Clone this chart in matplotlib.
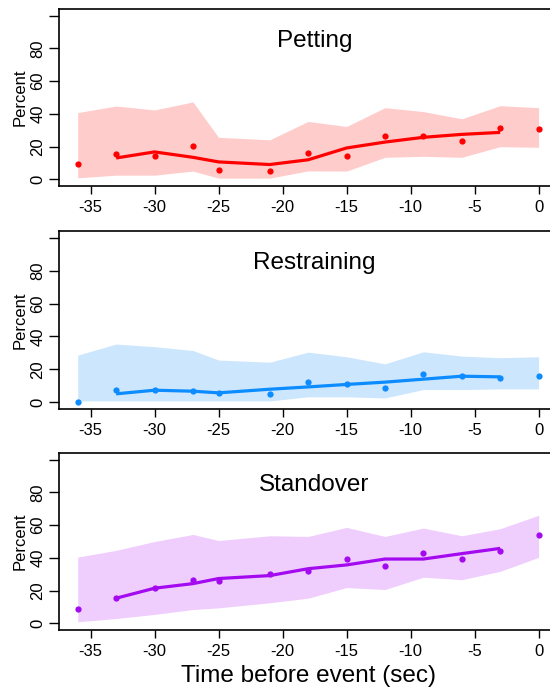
import matplotlib
matplotlib.use("Agg")
import matplotlib.pyplot as plt
import numpy as np

plt.rcParams['font.family'] = ['Liberation Sans', 'DejaVu Sans']

# time points (sec before event)
times = [-36, -33, -30, -27, -25, -21, -18, -15, -12, -9, -6, -3, 0]

# Petting
pet_pts = [9.3, 15.6, 14.5, 20.2, 5.5, 5.1, 16.2, 14.5, 26.7, 26.3, 23.6, 31.5, 30.5]
pet_line = [13.1, 16.8, 13.5, 10.7, 9.1, 12.0, 19.2, 22.8, 25.7, 27.5, 28.7]
pet_hi = [40.8, 44.8, 42.4, 47.3, 25.7, 24.2, 35.4, 32.3, 43.8, 41.4, 37.0, 45.0, 43.8]
pet_lo = [1.0, 2.6, 2.6, 5.1, 0.8, 0.8, 5.2, 5.1, 13.5, 14.1, 13.5, 20.0, 19.6]

# Restraining
res_pts = [0.1, 7.8, 7.4, 6.8, 5.6, 5.2, 12.3, 10.9, 9.0, 17.0, 15.9, 14.9, 16.3]
res_line = [5.2, 7.4, 6.8, 5.8, 8.0, 9.4, 10.9, 12.3, 14.1, 15.9, 15.5]
res_hi = [28.7, 35.4, 33.8, 31.5, 25.7, 24.4, 30.5, 27.7, 23.4, 30.7, 28.1, 27.1, 27.7]
res_lo = [0.9, 0.9, 0.9, 0.9, 0.9, 0.9, 3.4, 3.4, 2.7, 7.8, 7.8, 8.2, 8.2]

# Standover
sta_pts = [9.1, 15.4, 21.5, 26.7, 26.1, 30.0, 32.0, 39.3, 35.3, 43.0, 39.1, 44.4, 53.7]
sta_line = [15.4, 21.5, 24.3, 27.4, 29.2, 33.4, 35.7, 39.3, 39.3, 42.6, 45.8]
sta_hi = [40.5, 44.6, 50.0, 54.3, 50.6, 53.5, 53.1, 58.6, 53.1, 58.2, 53.5, 57.8, 66.0]
sta_lo = [1.0, 3.0, 5.5, 8.5, 9.5, 12.6, 15.4, 21.9, 20.7, 28.2, 26.7, 31.8, 40.3]

panels = [
    ("Petting", pet_pts, pet_line, pet_hi, pet_lo, "#FF0000", "#FFCCCC"),
    ("Restraining", res_pts, res_line, res_hi, res_lo, "#0D8CFF", "#CCE6FD"),
    ("Standover", sta_pts, sta_line, sta_hi, sta_lo, "#A40AF0", "#EFCEFD"),
]

W, H = 550, 691
fig = plt.figure(figsize=(W / 100, H / 100), dpi=100)

# panel boxes in pixels (top, bottom); box runs off the right edge
boxes = [(9, 186), (231, 409), (453, 630)]
left_px, right_px = 59.3, 557.0

for i, (name, pts, line, hi, lo, col, fill) in enumerate(panels):
    top, bot = boxes[i]
    ax = fig.add_axes([left_px / W, 1 - bot / H, (right_px - left_px) / W, (bot - top) / H])
    ax.fill_between(times, lo, hi, color=fill, linewidth=0)
    ax.plot(times[1:-1], line, color=col, linewidth=2.3, solid_capstyle='butt')
    ax.plot(times, pts, 'o', color=col, markersize=4.5, markeredgewidth=0)
    ax.set_xlim(-37.44, 1.44)
    ax.set_ylim(-4, 104)
    ax.set_xticks([-35, -30, -25, -20, -15, -10, -5, 0])
    ax.set_xticklabels(['-35', '-30', '-25', '-20', '-15', '-10', '-5', '0'])
    ax.set_yticks([0, 20, 40, 60, 80, 100])
    ax.set_yticklabels(['0', '20', '40', '60', '80', ''], rotation=90, va='center')
    ax.tick_params(axis='both', direction='out', width=1, labelsize=12)
    ax.tick_params(axis='x', length=5.8, pad=4.5)
    ax.tick_params(axis='y', length=7.2, pad=3)
    for s in ['top', 'left', 'bottom', 'right']:
        ax.spines[s].set_linewidth(1.2)
    ax.text(-17.5, 81, name, ha='center', va='baseline', fontsize=17.5)
    ax.set_ylabel("Percent", fontsize=12, labelpad=1.5)
    if i == 2:
        ax.set_xlabel("Time before event (sec)", fontsize=17.5, labelpad=4)

fig.savefig("out.png", dpi=100)
